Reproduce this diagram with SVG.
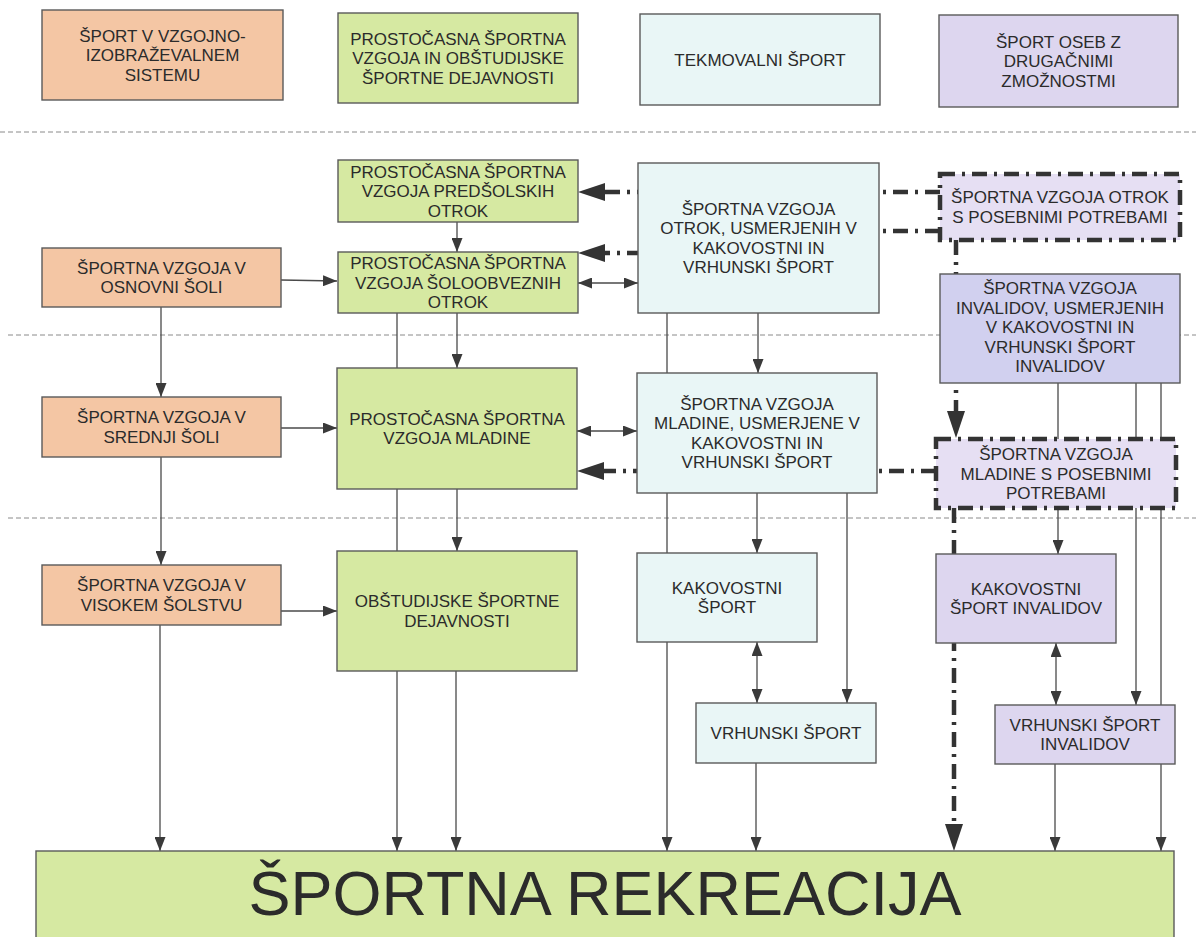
<svg xmlns="http://www.w3.org/2000/svg" width="1196" height="937" viewBox="0 0 1196 937">
<defs>
<style>
.bx{stroke:#5a5a5a;stroke-width:1.4}
.pe{fill:#f4c6a4}.gr{fill:#d6e9a2}.cy{fill:#e9f6f6}.la{fill:#ddd6ef}.lb{fill:#d1d0ef}
.dd{fill:#e6dff3;stroke:#333;stroke-width:4.5;stroke-dasharray:15 7 3 7}
.t{font-family:"Liberation Sans",Arial,sans-serif;font-size:17px;fill:#2b2b2b;text-anchor:middle}
.big{font-family:"Liberation Sans",Arial,sans-serif;font-size:63px;fill:#2b2b2b;text-anchor:middle}
.sep{stroke:#8a8a8a;stroke-width:1;stroke-dasharray:5 3;fill:none}
.c{stroke:#4a4a4a;stroke-width:1.3;fill:none}
.ca{stroke:#4a4a4a;stroke-width:1.3;fill:none;marker-end:url(#a)}
.cb{stroke:#4a4a4a;stroke-width:1.3;fill:none;marker-end:url(#a);marker-start:url(#a)}
.d{stroke:#333;stroke-width:4.5;fill:none;stroke-dasharray:15 7 3 7;marker-end:url(#b)}
</style>
<marker id="a" markerUnits="userSpaceOnUse" markerWidth="14" markerHeight="11" refX="14" refY="5.5" orient="auto-start-reverse" viewBox="0 0 14 11"><path d="M0,0 L14,5.5 L0,11 z" fill="#3a3a3a"/></marker>
<marker id="b" markerUnits="userSpaceOnUse" markerWidth="27" markerHeight="18" refX="0" refY="9" orient="auto" viewBox="0 0 27 18"><path d="M0,0 L27,9 L0,18 z" fill="#333"/></marker>
</defs>
<rect width="1196" height="937" fill="#ffffff"/>
<g id="separators">
<line class="sep" x1="0" y1="132" x2="1196" y2="132"/>
<line class="sep" x1="8" y1="335" x2="1196" y2="335"/>
<line class="sep" x1="8" y1="518" x2="1196" y2="518"/>
</g>
<g id="connectors">
<path class="ca" d="M281,280 L337,281"/>
<path class="ca" d="M281,428 H337"/>
<path class="ca" d="M281,611 H337"/>
<path class="ca" d="M161,307 V397"/>
<path class="ca" d="M161,457 V565"/>
<path class="ca" d="M160,625 V851"/>
<path class="ca" d="M457,222 V252"/>
<path class="ca" d="M457,313 V368"/>
<path class="ca" d="M457,489 V551"/>
<path class="ca" d="M456,671 V851"/>
<path class="ca" d="M397,313 V851"/>
<path class="cb" d="M578,283 H638"/>
<path class="cb" d="M577,431 H637"/>
<path class="ca" d="M758,313 V373"/>
<path class="ca" d="M667,313 V851"/>
<path class="ca" d="M757,493 V553"/>
<path class="ca" d="M847,493 V703"/>
<path class="cb" d="M757,642 V703"/>
<path class="ca" d="M756,763 V851"/>
<path class="c" d="M1058,383 V439"/>
<path class="ca" d="M1136,383 V705"/>
<path class="ca" d="M1161,383 V851"/>
<path class="ca" d="M1058,508 V554"/>
<path class="cb" d="M1056,643 V705"/>
<path class="ca" d="M1055,764 V851"/>
<path class="d" d="M940,192 H605"/>
<path class="d" d="M940,231 H760 V253 H605"/>
<path class="d" d="M936,471 H604"/>
<path class="d" d="M956,240 V411"/>
<path class="d" d="M954,508 V824"/>
</g>
<g id="h1"><rect class="bx pe" x="42" y="10" width="241" height="90"/><text class="t" x="162.5" y="41.5">ŠPORT V VZGOJNO-</text><text class="t" x="162.5" y="61">IZOBRAŽEVALNEM</text><text class="t" x="162.5" y="80.5">SISTEMU</text></g>
<g id="h2"><rect class="bx gr" x="338" y="13" width="240" height="90"/><text class="t" x="458" y="44.5">PROSTOČASNA ŠPORTNA</text><text class="t" x="458" y="64">VZGOJA IN OBŠTUDIJSKE</text><text class="t" x="458" y="83.5">ŠPORTNE DEJAVNOSTI</text></g>
<g id="h3"><rect class="bx cy" x="640" y="14" width="240" height="91"/><text class="t" x="760" y="65.5">TEKMOVALNI ŠPORT</text></g>
<g id="h4"><rect class="bx la" x="939" y="15" width="239" height="92"/><text class="t" x="1058.5" y="47.5">ŠPORT OSEB Z</text><text class="t" x="1058.5" y="67">DRUGAČNIMI</text><text class="t" x="1058.5" y="86.5">ZMOŽNOSTMI</text></g>
<g id="o1"><rect class="bx pe" x="42" y="248" width="239" height="59"/><text class="t" x="161.5" y="273.75">ŠPORTNA VZGOJA V</text><text class="t" x="161.5" y="293.25">OSNOVNI ŠOLI</text></g>
<g id="o2"><rect class="bx pe" x="42" y="397" width="239" height="60"/><text class="t" x="161.5" y="423.25">ŠPORTNA VZGOJA V</text><text class="t" x="161.5" y="442.75">SREDNJI ŠOLI</text></g>
<g id="o3"><rect class="bx pe" x="42" y="565" width="239" height="60"/><text class="t" x="161.5" y="591.25">ŠPORTNA VZGOJA V</text><text class="t" x="161.5" y="610.75">VISOKEM ŠOLSTVU</text></g>
<g id="g1"><rect class="bx gr" x="338" y="160" width="240" height="62"/><text class="t" x="458" y="177.5">PROSTOČASNA ŠPORTNA</text><text class="t" x="458" y="197">VZGOJA PREDŠOLSKIH</text><text class="t" x="458" y="216.5">OTROK</text></g>
<g id="g2"><rect class="bx gr" x="338" y="252" width="240" height="61"/><text class="t" x="458" y="269">PROSTOČASNA ŠPORTNA</text><text class="t" x="458" y="288.5">VZGOJA ŠOLOOBVEZNIH</text><text class="t" x="458" y="308">OTROK</text></g>
<g id="g3"><rect class="bx gr" x="337" y="368" width="240" height="121"/><text class="t" x="457" y="424.75">PROSTOČASNA ŠPORTNA</text><text class="t" x="457" y="444.25">VZGOJA MLADINE</text></g>
<g id="g4"><rect class="bx gr" x="337" y="551" width="240" height="120"/><text class="t" x="457" y="607.25">OBŠTUDIJSKE ŠPORTNE</text><text class="t" x="457" y="626.75">DEJAVNOSTI</text></g>
<g id="c1"><rect class="bx cy" x="638" y="163" width="241" height="150"/><text class="t" x="758.5" y="214.75">ŠPORTNA VZGOJA</text><text class="t" x="758.5" y="234.25">OTROK, USMERJENIH V</text><text class="t" x="758.5" y="253.75">KAKOVOSTNI IN</text><text class="t" x="758.5" y="273.25">VRHUNSKI ŠPORT</text></g>
<g id="c2"><rect class="bx cy" x="637" y="373" width="240" height="120"/><text class="t" x="757" y="409.75">ŠPORTNA VZGOJA</text><text class="t" x="757" y="429.25">MLADINE, USMERJENE V</text><text class="t" x="757" y="448.75">KAKOVOSTNI IN</text><text class="t" x="757" y="468.25">VRHUNSKI ŠPORT</text></g>
<g id="k1"><rect class="bx cy" x="637" y="553" width="180" height="89"/><text class="t" x="727" y="593.75">KAKOVOSTNI</text><text class="t" x="727" y="613.25">ŠPORT</text></g>
<g id="v1"><rect class="bx cy" x="696" y="703" width="180" height="60"/><text class="t" x="786" y="739">VRHUNSKI ŠPORT</text></g>
<g id="p1"><rect class="dd" x="940" y="174" width="240" height="66"/><text class="t" x="1060" y="203.25">ŠPORTNA VZGOJA OTROK</text><text class="t" x="1060" y="222.75">S POSEBNIMI POTREBAMI</text></g>
<g id="p2"><rect class="bx lb" x="940" y="274" width="240" height="109"/><text class="t" x="1060" y="294">ŠPORTNA VZGOJA</text><text class="t" x="1060" y="313.5">INVALIDOV, USMERJENIH</text><text class="t" x="1060" y="333">V KAKOVOSTNI IN</text><text class="t" x="1060" y="352.5">VRHUNSKI ŠPORT</text><text class="t" x="1060" y="372">INVALIDOV</text></g>
<g id="p3"><rect class="dd" x="936" y="439" width="240" height="69"/><text class="t" x="1056" y="460">ŠPORTNA VZGOJA</text><text class="t" x="1056" y="479.5">MLADINE S POSEBNIMI</text><text class="t" x="1056" y="499">POTREBAMI</text></g>
<g id="p4"><rect class="bx la" x="936" y="554" width="180" height="89"/><text class="t" x="1026" y="594.75">KAKOVOSTNI</text><text class="t" x="1026" y="614.25">ŠPORT INVALIDOV</text></g>
<g id="p5"><rect class="bx la" x="995" y="705" width="180" height="59"/><text class="t" x="1085" y="730.75">VRHUNSKI ŠPORT</text><text class="t" x="1085" y="750.25">INVALIDOV</text></g>
<g id="rekreacija"><rect class="bx gr" x="36" y="851" width="1138" height="100"/><text class="big" x="605" y="915">ŠPORTNA REKREACIJA</text></g>
</svg>
